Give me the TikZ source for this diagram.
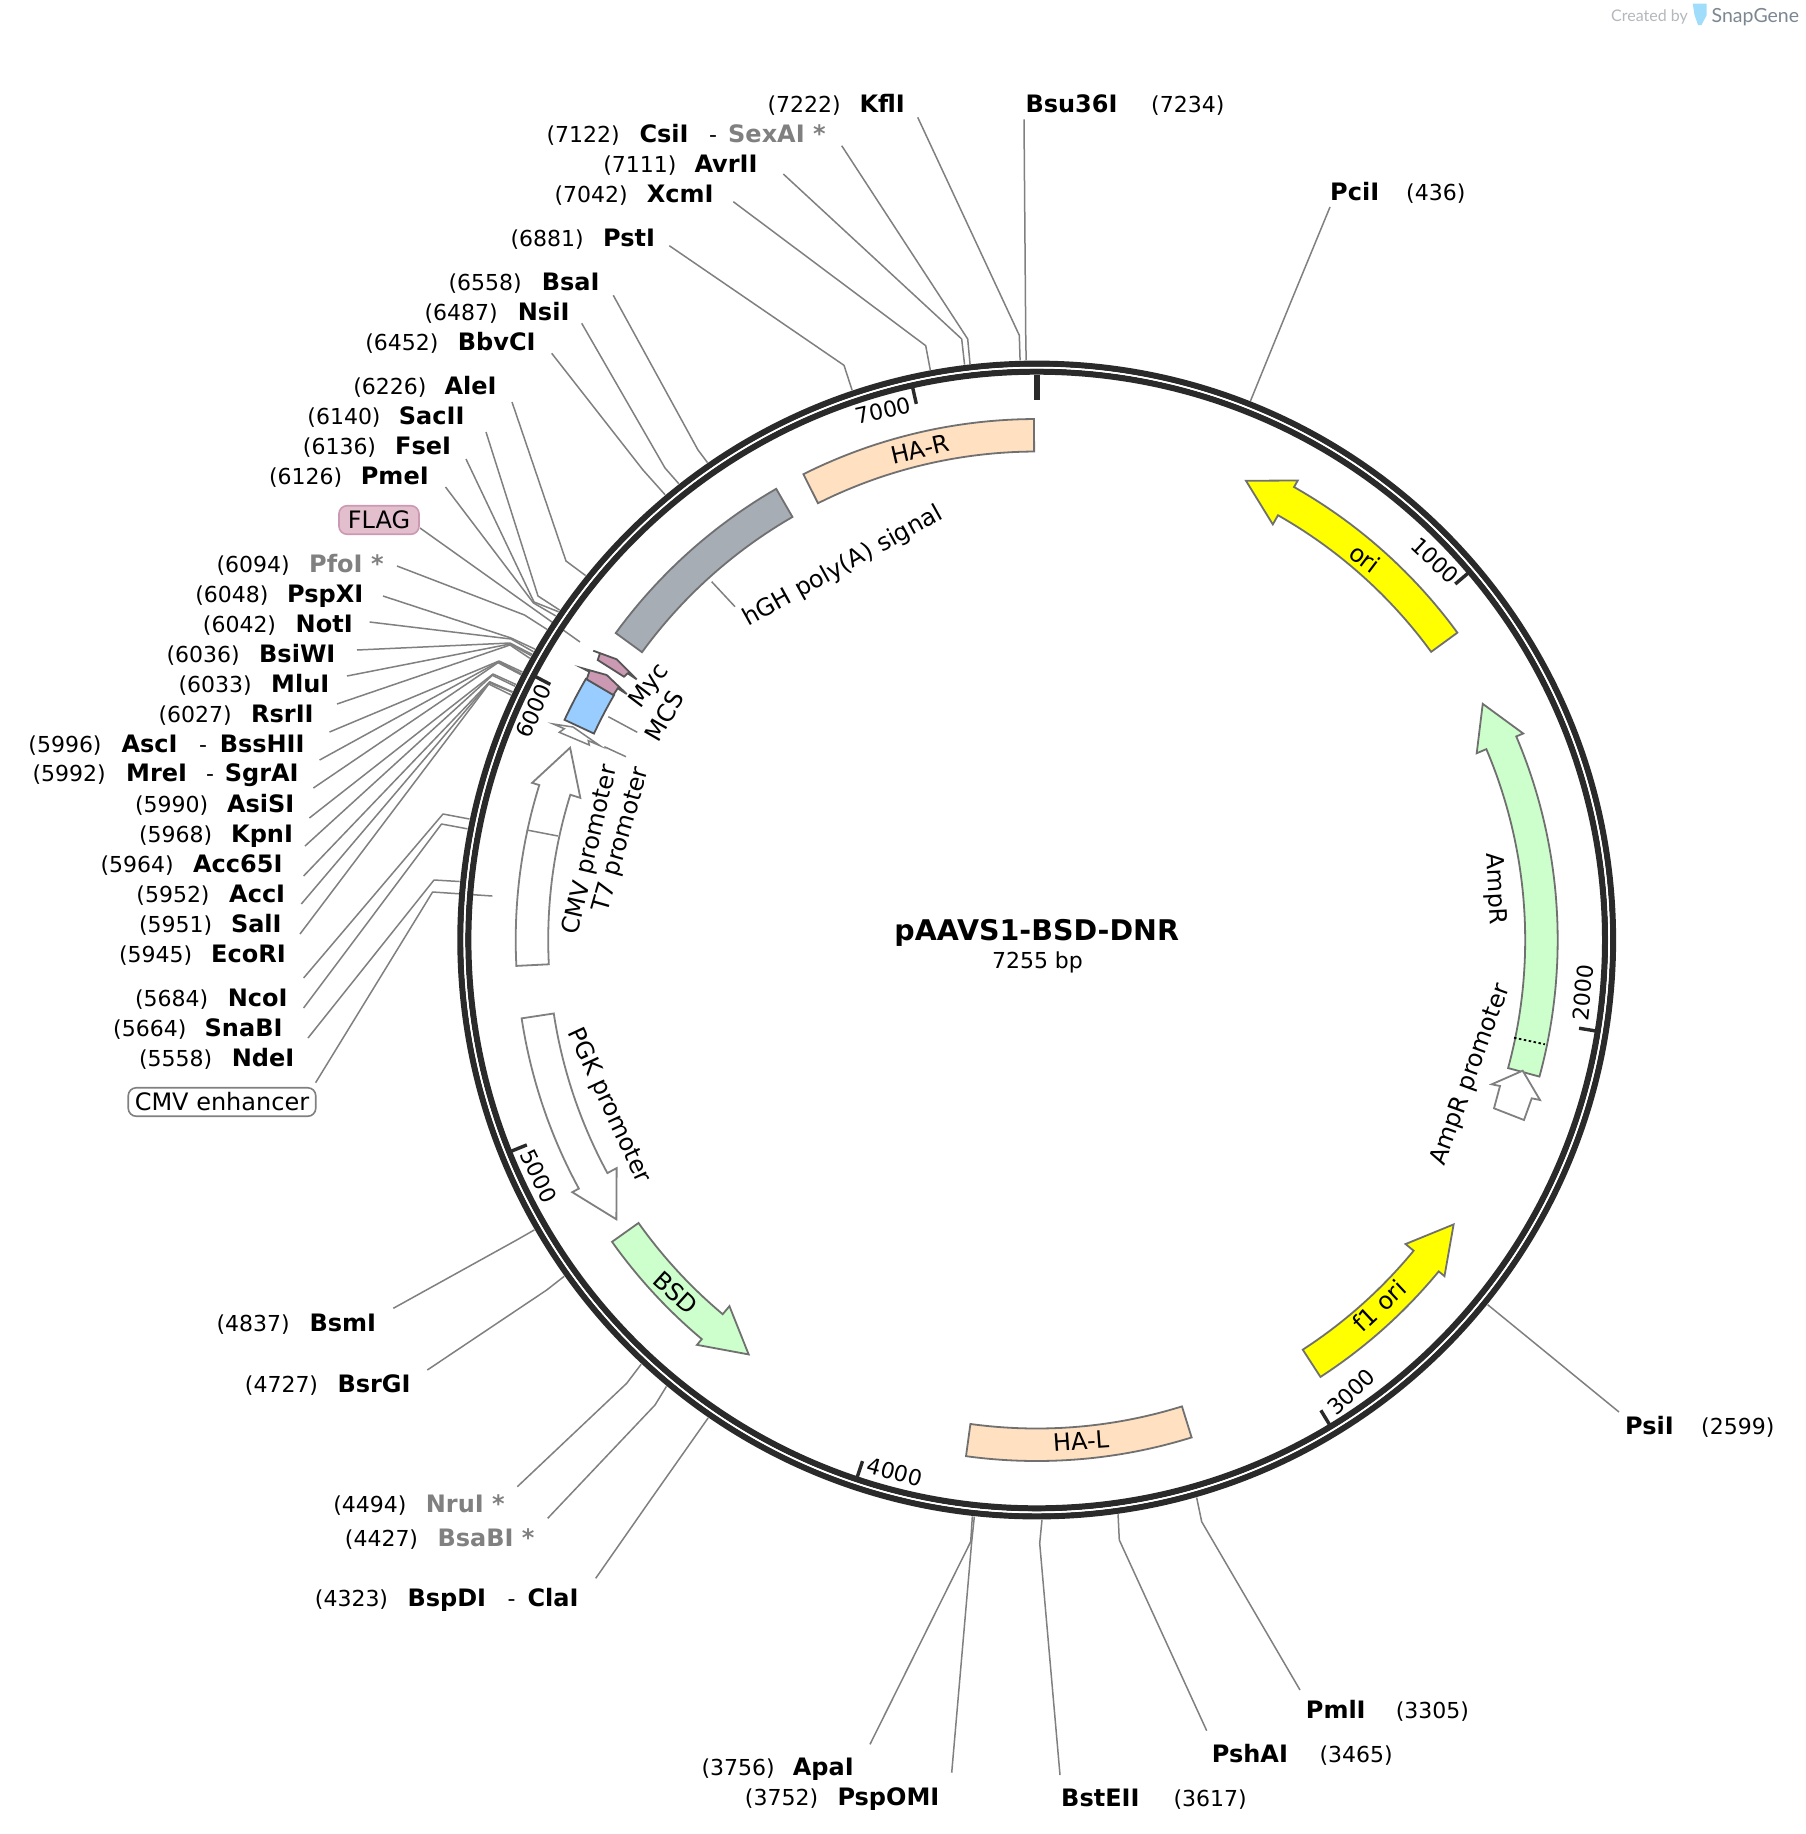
\documentclass[tikz,border=0pt]{standalone}
\usepackage{fontspec}
\setmainfont{DejaVu Sans}
\newfontfamily\brandfont{Lato}
\def\cx{1036.7}
\def\cy{940}
% straight band: style, angle a, angle b
\newcommand{\arcband}[3]{\draw[#1] plot[domain=#2:#3,samples=50,variable=\t] ({\cx+521*sin(\t)},{\cy-521*cos(\t)}) -- plot[domain=#3:#2,samples=50,variable=\t] ({\cx+488.5*sin(\t)},{\cy-488.5*cos(\t)}) -- cycle;}
% arrow: style, tail, neck, tip
\newcommand{\arcarrow}[4]{\draw[#1] plot[domain=#2:#3,samples=50,variable=\t] ({\cx+521*sin(\t)},{\cy-521*cos(\t)}) -- ({\cx+528.5*sin(#3)},{\cy-528.5*cos(#3)}) -- ({\cx+504.7*sin(#4)},{\cy-504.7*cos(#4)}) -- ({\cx+478*sin(#3)},{\cy-478*cos(#3)}) -- plot[domain=#3:#2,samples=50,variable=\t] ({\cx+488.5*sin(\t)},{\cy-488.5*cos(\t)}) -- cycle;}
% leader: id, bp, start, elbow
\newcommand{\site}[6]{%
  \coordinate (#1s) at (#3,#4);
  \coordinate (#1e) at (#5,#6);
  \coordinate (#1r) at ({\cx+580*sin((#2)/7255*360)},{\cy-580*cos((#2)/7255*360)});
  \draw[leader] (#1s) -- (#1e) -- (#1r);}
% label, number to the left: id, number, right edge, name, left edge, baseline
\newcommand{\labl}[6]{%
  \node[numtxt,anchor=base east] (#1num) at (#3,#6) {(#2)};
  \node[nametxt,anchor=base west] (#1name) at (#5,#6) {#4};}
% label, number to the right: id, number, left edge, name, left edge, baseline
\newcommand{\labr}[6]{%
  \node[numtxt,anchor=base west] (#1num) at (#3,#6) {(#2)};
  \node[nametxt,anchor=base west] (#1name) at (#5,#6) {#4};}
% tick: id, bp, label x, label y, rotation
\newcommand{\tickmark}[5]{%
  \coordinate (#1a) at ({\cx+566*sin((#2)/7255*360)},{\cy-566*cos((#2)/7255*360)});
  \coordinate (#1b) at ({\cx+549.5*sin((#2)/7255*360)},{\cy-549.5*cos((#2)/7255*360)});
  \draw[tickline] (#1a) -- (#1b);
  \node[ticktxt,rotate=#5] (#1lab) at (#3,#4) {#2};}
\tikzset{
  leader/.style={draw=leadgray,line width=1.5pt,line join=round},
  ringline/.style={draw=ringdark,line width=6.2pt},
  tickline/.style={draw=ringdark,line width=3.4pt},
  numtxt/.style={inner sep=0pt,yshift=-1pt,font=\fontsize{22}{24}\selectfont,text=black},
  nametxt/.style={inner sep=0pt,yshift=-1pt,font=\fontsize{24}{26}\bfseries\selectfont,text=black},
  dimname/.style={nametxt,text=leadgray},
  ticktxt/.style={inner sep=0pt,font=\fontsize{22}{24}\selectfont},
  feattxt/.style={inner sep=0pt,font=\fontsize{24}{26}\selectfont},
  feat/.style={draw=featgray,line width=1.8pt,line join=miter},
  whitearrow/.style={feat,draw=leadgray,fill=white},
  purplearrow/.style={feat,draw=darkfeat,fill=flagpink},
}
\definecolor{leadgray}{HTML}{808080}
\definecolor{ringdark}{HTML}{2A2A2A}
\definecolor{featgray}{HTML}{707070}
\definecolor{darkfeat}{HTML}{555555}
\definecolor{flagpink}{HTML}{CC99B2}
\definecolor{flaglight}{HTML}{E3BFCE}
\definecolor{hapeach}{HTML}{FFE0C0}
\definecolor{ampgreen}{HTML}{CCFFCC}
\definecolor{polygray}{HTML}{A7ADB5}
\definecolor{mcsblue}{HTML}{99CCFF}
\definecolor{oriyellow}{RGB}{255,255,0}
\definecolor{brandgray}{HTML}{B4B8BC}
\definecolor{branddark}{HTML}{7C8792}
\definecolor{brandblue}{HTML}{A0DDFB}
\begin{document}
\begin{tikzpicture}[x=1pt,y=-1pt]
\useasboundingbox (0,0) rectangle (1806,1834);
\fill[white] (0,0) rectangle (1806,1834);
\coordinate (c) at (\cx,\cy);

% ---------- leaders ----------
\site{kfl}{7222}{917.7}{117.3}{1019.3}{335.3}
\site{bsu}{7234}{1024}{119.3}{1025.7}{333}
\site{csi}{7122}{841.7}{145.7}{967.7}{339}
\site{avr}{7111}{783.3}{174}{961.7}{339}
\site{xcm}{7042}{733.3}{201.7}{925.7}{345.7}
\site{pst}{6881}{669.3}{245.7}{844}{365.3}
\site{bsa}{6558}{613.3}{295.3}{698}{450}
\site{nsi}{6487}{581.7}{323.3}{665}{468}
\site{bbv}{6452}{551.7}{353.3}{643}{470}
\site{ale}{6226}{512}{402}{566}{561}
\site{sac}{6140}{486}{432}{538}{596}
\site{fse}{6136}{466}{459}{534}{602}
\site{pme}{6126}{445.5}{487}{533.5}{603}
\site{pfo}{6094}{397}{566}{524.5}{615}
\site{psp}{6048}{383}{596}{511}{638}
\site{not}{6042}{369.6}{622}{511}{639}
\site{bsi}{6036}{357}{650}{510}{643}
\site{mlu}{6033}{347}{676}{510}{644}
\site{rsr}{6027}{337}{704}{510}{645}
\site{asc}{5996}{329.5}{732}{499}{661}
\site{mre}{5992}{319.6}{760}{498.7}{661.7}
\site{asi}{5990}{313.4}{788}{498}{662.7}
\site{kpn}{5968}{309.4}{818}{493}{674}
\site{acc}{5964}{305}{846}{492.4}{675.3}
\site{aci}{5952}{303.6}{876}{489.7}{681.7}
\site{sal}{5951}{301.3}{904}{489.3}{682.7}
\site{eco}{5945}{300}{934}{488.8}{684}
\site{nco}{5684}{303.6}{978}{443}{814}
\site{sna}{5664}{303.6}{1008}{441.5}{824}
\site{nde}{5558}{308}{1038}{434}{880}
\site{bsm}{4837}{393.3}{1308.3}{516.7}{1240}
\site{bsr}{4727}{427.3}{1370}{546.7}{1290}
\site{nru}{4494}{517.3}{1486.7}{626.7}{1383.3}
\site{bab}{4427}{547.7}{1518.3}{655}{1405}
\site{bsp}{4323}{595.7}{1578.3}{650}{1500.5}
\site{apa}{3756}{870}{1744.3}{970.7}{1541.7}
\site{pso}{3752}{951.7}{1772.7}{971.7}{1541.7}
\site{bst}{3617}{1060}{1775}{1039.7}{1543.3}
\site{psh}{3465}{1206.7}{1730.7}{1119.3}{1540}
\site{pml}{3305}{1300}{1690}{1201.7}{1521.7}
\site{pci}{436}{1330}{207}{1290}{304}
\site{psi}{2599}{1619}{1412}{1550}{1355.6}

% feature leaders
\coordinate (flagS) at (420,528);
\coordinate (flagE) at (580,642);
\draw[leader] (flagS) -- (flagE);
\coordinate (enhS) at (315.6,1082.7);
\coordinate (enhE) at (432.6,892);
\coordinate (enhR) at (492.4,896);
\draw[leader] (enhS) -- (enhE) -- (enhR);
\coordinate (mcsA) at (608.3,716.7);
\coordinate (mcsB) at (637.3,732.3);
\draw[leader] (mcsA) -- (mcsB);
\coordinate (t7A) at (604.3,746.7);
\coordinate (t7B) at (626,756.7);
\draw[leader] (t7A) -- (t7B);
\coordinate (hghA) at (711.7,581.7);
\coordinate (hghB) at (735,606.7);
\draw[leader] (hghA) -- (hghB);

% ---------- backbone ----------
\draw[ringline] (c) circle[radius=576.3];
\draw[ringline] (c) circle[radius=568.4];
\draw[draw=white,line width=1.7pt] (c) circle[radius=572.4];

% ticks
\coordinate (zeroA) at (\cx,374.5);
\coordinate (zeroB) at (\cx,400);
\draw[draw=ringdark,line width=6pt] (zeroA) -- (zeroB);
\tickmark{t1}{1000}{1435}{560.4}{-43}
\tickmark{t2}{2000}{1583}{993}{84}
\tickmark{t3}{3000}{1351}{1392}{43}
\tickmark{t4}{4000}{895}{1472}{-15}
\tickmark{t5}{5000}{539}{1176}{-64}
\tickmark{t6}{6000}{533.5}{711}{66}
\tickmark{t7}{7000}{883.4}{410.7}{13}

% ---------- features ----------
\arcband{feat,fill=hapeach}{-26.6}{-0.3}
\arcband{feat,fill=polygray}{-53.9}{-30}
\arcband{feat,fill=hapeach}{162.7}{187.8}
\arcarrow{feat,fill=oriyellow}{53.85}{29.6}{24.5}
\arcarrow{feat,fill=ampgreen}{105.2}{67}{62.1}
\arcarrow{feat,fill=oriyellow}{147}{129.5}{124.3}
\arcarrow{feat,fill=ampgreen}{234.6}{220}{214.8}
\arcarrow{whitearrow}{261.35}{241.5}{236.4}
\arcarrow{whitearrow}{267.15}{287.3}{292.4}
% AmpR signal divider
\coordinate (ampdA) at (1514,1037.7);
\coordinate (ampdB) at (1545,1044.3);
\draw[black,line width=1.8pt,dash pattern=on 2.5pt off 2.5pt] (ampdA) -- (ampdB);
% CMV divider
\coordinate (cmvA) at (526.8,830);
\coordinate (cmvB) at (558,836);
\draw[leader] (cmvA) -- (cmvB);
% AmpR promoter arrow
\draw[whitearrow] (1522.7,1070.7) -- (1540,1100) -- (1531.7,1098.3) -- (1524,1120) -- (1494,1108.3) -- (1500,1086) -- (1491.7,1084.3) -- cycle;
% MCS
\arcband{feat,draw=darkfeat,fill=mcsblue}{295}{300.1}
% FLAG feature
\draw[purplearrow] (582.7,668.3) -- (606.7,675) -- (626.7,694) -- (617.7,688.3) -- (613.3,695) -- (586.7,679.3) -- (589.3,671.7) -- cycle;
% Myc feature
\draw[purplearrow] (593.3,650.7) -- (616.7,659.3) -- (636.7,679.3) -- (627.7,673.3) -- (624,676.7) -- (597.7,660) -- (600,653.3) -- cycle;
% T7 promoter
\draw[whitearrow,line width=1.5pt] (553.3,724) -- (573,727) -- (600,745.7) -- (588.3,740.7) -- (589.3,745) -- (559.3,732.3) -- (564.3,728.7) -- cycle;

% ---------- feature labels ----------
\node[feattxt,rotate=13] (lHAR) at (920,449) {HA-R};
\node[feattxt,rotate=4] (lHAL) at (1081,1441) {HA-L};
\node[feattxt,rotate=-37] (lori) at (1365,558.3) {ori};
\node[feattxt,rotate=43] (lf1) at (1379,1306) {f1 ori};
\node[feattxt,rotate=-42] (lBSD) at (676,1293) {BSD};
\node[feattxt,rotate=-87] (lAmp) at (1495,889) {AmpR};
\node[feattxt,rotate=70] (lAmpP) at (1471,1075) {AmpR promoter};
\node[feattxt,rotate=-65] (lPGK) at (608.5,1105.6) {PGK promoter};
\node[feattxt,rotate=77] (lCMV) at (590.9,850) {CMV promoter};
\node[feattxt,rotate=74] (lT7) at (622,840) {T7 promoter};
\node[feattxt,rotate=60] (lMCS) at (664.6,716) {MCS};
\node[feattxt,rotate=53] (lMyc) at (650,686.5) {Myc};
\node[feattxt,rotate=29] (lhGH) at (843,566.5) {hGH poly(A) signal};
\node[feattxt,draw=flagpink,fill=flaglight,rounded corners=8pt,line width=1.6pt,minimum width=80pt,minimum height=28.5pt] (lFLAG) at (379,520) {FLAG};
\node[feattxt,draw=leadgray,fill=white,rounded corners=8pt,line width=1.6pt,minimum width=187.5pt,minimum height=28.5pt] (lEnh) at (222,1102) {CMV enhancer};

% ---------- centre ----------
\node[inner sep=0pt,font=\fontsize{28.5}{31}\bfseries\selectfont,anchor=base] (title) at (1036.7,940) {pAAVS1-BSD-DNR};
\node[inner sep=0pt,font=\fontsize{22}{24}\selectfont,anchor=base] (size) at (1037.5,968) {7255 bp};

% ---------- enzyme labels ----------
\labl{kfl}{7222}{841}{KflI}{859.3}{111.7}
\labr{bsu}{7234}{1151}{Bsu36I}{1025.3}{111.7}
\labl{csi}{7122}{620}{CsiI}{639.3}{141.7}
\node[numtxt,anchor=base] (csid) at (713,141.7) {-};
\node[dimname,anchor=base west] (sex) at (728,141.7) {SexAI *};
\labl{avr}{7111}{676.7}{AvrII}{694.3}{171.7}
\labl{xcm}{7042}{628}{XcmI}{646.7}{201.7}
\labl{pst}{6881}{584}{PstI}{603}{245.7}
\labl{bsa}{6558}{522}{BsaI}{541.7}{289.7}
\labl{nsi}{6487}{498}{NsiI}{517.7}{319.7}
\labl{bbv}{6452}{438.7}{BbvCI}{457.7}{349.3}
\labl{ale}{6226}{426.7}{AleI}{444.3}{393.7}
\labl{sac}{6140}{380.8}{SacII}{398.7}{423.3}
\labl{fse}{6136}{376.3}{FseI}{395}{453.3}
\labl{pme}{6126}{342.4}{PmeI}{360.7}{483.3}
\node[numtxt,anchor=base east] (pfonum) at (290,571.7) {(6094)};
\node[dimname,anchor=base west] (pfoname) at (309,571.7) {PfoI *};
\labl{psp}{6048}{268.7}{PspXI}{287}{601.7}
\labl{not}{6042}{276.3}{NotI}{295.5}{631.7}
\labl{bsi}{6036}{240}{BsiWI}{259}{661.7}
\labl{mlu}{6033}{252}{MluI}{271}{691.7}
\labl{rsr}{6027}{232}{RsrII}{251}{721.7}
\labl{asc}{5996}{101.8}{AscI}{121.4}{751}
\node[numtxt,anchor=base] (ascd) at (203,751) {-};
\node[nametxt,anchor=base west] (bss) at (219.6,751) {BssHII};
\labl{mre}{5992}{106}{MreI}{126}{780.5}
\node[numtxt,anchor=base] (mred) at (210,780.5) {-};
\node[nametxt,anchor=base west] (sgr) at (224.6,780.5) {SgrAI};
\labl{asi}{5990}{208.5}{AsiSI}{226.8}{811.7}
\labl{kpn}{5968}{212.5}{KpnI}{231}{841.7}
\labl{acc}{5964}{174}{Acc65I}{192.9}{871.7}
\labl{aci}{5952}{209.8}{AccI}{229}{901.7}
\labl{sal}{5951}{212.5}{SalI}{230.8}{931.7}
\labl{eco}{5945}{192.4}{EcoRI}{211}{961.7}
\labl{nco}{5684}{208.5}{NcoI}{227.7}{1005.7}
\labl{sna}{5664}{186.6}{SnaBI}{204.5}{1035.7}
\labl{nde}{5558}{212.5}{NdeI}{231.7}{1065.7}
\labl{bsm}{4837}{290}{BsmI}{309.3}{1330}
\labl{bsr}{4727}{318.3}{BsrGI}{337.3}{1391.7}
\node[numtxt,anchor=base east] (nrunum) at (406.7,1511.7) {(4494)};
\node[dimname,anchor=base west] (nruname) at (425.7,1511.7) {NruI *};
\node[numtxt,anchor=base east] (babnum) at (418.3,1545) {(4427)};
\node[dimname,anchor=base west] (babname) at (437.3,1545) {BsaBI *};
\labl{bsp}{4323}{388.3}{BspDI}{407.3}{1605.7}
\node[numtxt,anchor=base] (bspd) at (511.7,1605.7) {-};
\node[nametxt,anchor=base west] (cla) at (527.3,1605.7) {ClaI};
\labl{apa}{3756}{775}{ApaI}{792.7}{1774}
\labl{pso}{3752}{818.3}{PspOMI}{837.3}{1804}
\labr{bst}{3617}{1173.3}{BstEII}{1061}{1805.7}
\labr{pml}{3305}{1395.7}{PmlI}{1305.7}{1717.7}
\labr{psh}{3465}{1319.3}{PshAI}{1211.7}{1761.7}
\labr{pci}{436}{1406}{PciI}{1330}{199}
\labr{psi}{2599}{1701}{PsiI}{1625}{1433}

% ---------- brand mark ----------
\node[inner sep=0pt,anchor=base east,text=brandgray,font=\brandfont\fontsize{16}{18}\selectfont] (created) at (1688,21) {Created by};
\fill[brandblue] (1692.7,3.5) -- (1706.7,3.5) -- (1706.7,15) -- (1701.5,25) -- (1698,25) -- (1694.5,15) -- cycle;
\node[inner sep=0pt,anchor=base west,text=branddark,font=\brandfont\fontsize{19.5}{22}\selectfont] (brand) at (1711.5,22) {SnapGene};
\end{tikzpicture}
\end{document}
